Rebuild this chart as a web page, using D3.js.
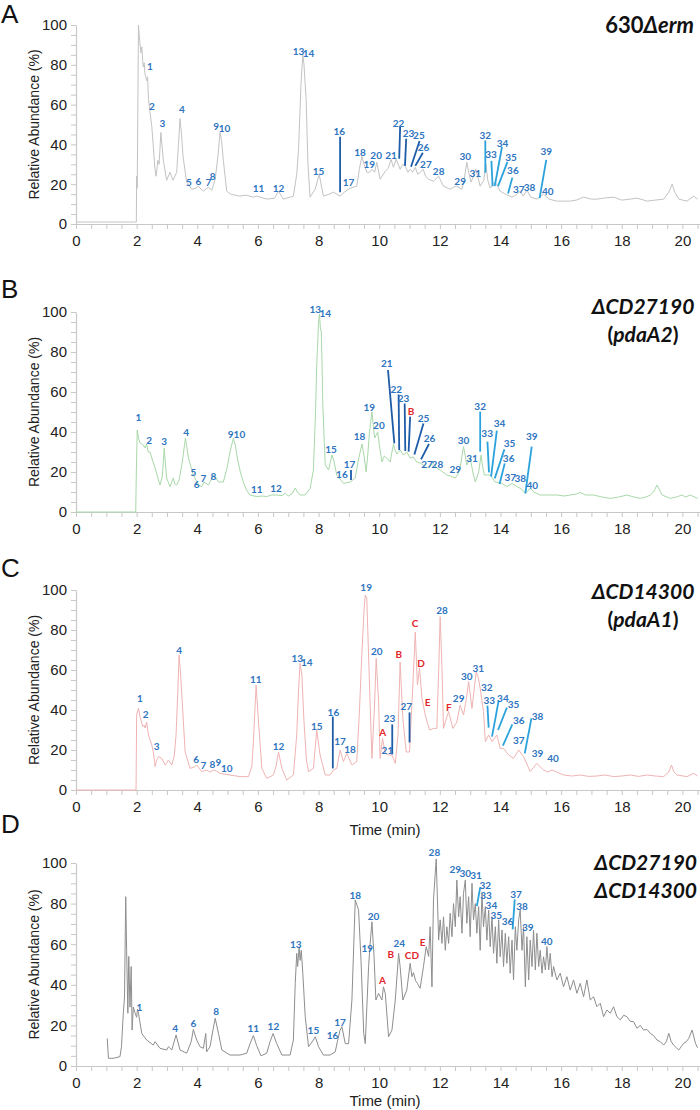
<!DOCTYPE html>
<html><head><meta charset="utf-8">
<script src="https://cdn.jsdelivr.net/npm/d3@7"></script>
<style>body{margin:0;background:#fff;} svg{display:block;}</style>
</head><body>
<svg id="c" width="700" height="1110"></svg>
<script>
// ---------- DATA ----------
const xTickValues = d3.range(0, 20.51, 0.5);
const yTickValues = d3.range(0, 101, 5);
const panelLetters = ["A", "B", "C", "D"];

const traceA = [[0,1],[1.99,1],[2.0,24],[2.02,18],[2.06,100],[2.1,92],[2.14,86],[2.17,89],[2.2,82],[2.22,79],[2.25,81],[2.27,76],[2.33,72],[2.36,74],[2.39,63],[2.45,55],[2.5,49],[2.55,39],[2.6,28],[2.64,24],[2.7,32],[2.74,30],[2.8,46],[2.88,32],[2.99,22],[3.1,26],[3.2,22],[3.32,26],[3.38,40],[3.43,53],[3.48,45],[3.53,34],[3.65,21],[3.82,17.5],[3.95,18],[4.03,19],[4.2,16.5],[4.36,18.5],[4.48,17],[4.59,22.5],[4.68,34],[4.75,46],[4.8,42],[4.86,32],[4.97,16.5],[5.1,15],[5.4,14],[5.6,14.5],[5.85,13.5],[5.96,14],[6.3,12.5],[6.55,13],[6.68,16.5],[6.84,12.5],[7.17,14],[7.28,25],[7.34,37.5],[7.42,70],[7.48,85],[7.52,80],[7.59,62.5],[7.65,30],[7.72,13.5],[7.89,17.5],[8.02,25],[8.16,14],[8.35,15],[8.49,16],[8.71,14],[8.85,16],[9.04,18],[9.26,19],[9.35,28],[9.43,34],[9.5,30],[9.59,26],[9.68,26],[9.76,27.5],[9.85,26],[9.92,31],[10.03,22.5],[10.2,26.5],[10.3,28],[10.39,32.5],[10.47,28.5],[10.56,32.5],[10.69,27.5],[10.78,30],[10.86,29],[10.95,26],[11.02,27.5],[11.1,26],[11.19,28.5],[11.27,25],[11.35,26],[11.45,27.5],[11.53,24],[11.63,22.5],[11.79,21.5],[11.96,24],[12.12,19],[12.34,17.5],[12.45,18.5],[12.56,19],[12.73,17.5],[12.8,22],[12.89,31],[12.95,26],[13.03,21],[13.19,27.5],[13.33,19],[13.45,22],[13.52,30],[13.58,22],[13.66,18],[13.75,20],[13.83,21],[13.99,16.5],[14.16,15],[14.38,13.5],[14.5,14.5],[14.65,16.5],[14.75,14],[14.87,17],[15.0,13.5],[15.2,12.5],[15.42,15],[15.6,12.5],[15.86,11.5],[16.3,11.5],[16.5,12],[16.74,13.5],[17.0,12.5],[17.18,12.5],[17.4,13],[17.73,13.5],[18.0,12],[18.28,12.5],[18.5,13],[18.84,11.5],[19.1,12],[19.38,12.5],[19.55,16],[19.66,20],[19.75,16],[19.88,12.5],[20.15,11.5],[20.37,14],[20.5,12.5]];

const traceB = [[0,0],[1.97,0],[1.99,20],[2.02,41],[2.06,37],[2.1,35],[2.16,34],[2.22,33.5],[2.28,32],[2.33,34],[2.38,30],[2.44,30],[2.52,26],[2.61,22],[2.7,17],[2.77,13.5],[2.85,18],[2.91,32],[2.95,24],[2.99,17],[3.1,12.7],[3.21,17],[3.26,14],[3.32,13.5],[3.4,16],[3.49,23.5],[3.61,37],[3.65,33],[3.71,27],[3.8,22],[3.87,18.5],[4.04,13.5],[4.15,12.7],[4.22,15],[4.37,13.5],[4.45,16],[4.53,18.5],[4.62,17],[4.7,15],[4.86,15],[4.98,22],[5.08,30],[5.19,37],[5.26,33],[5.32,27],[5.42,20],[5.52,15],[5.62,11],[5.74,8.5],[5.96,7.7],[6.15,8],[6.29,7.7],[6.45,8.5],[6.62,8.5],[6.8,8.2],[6.9,9.5],[7.0,8],[7.12,9],[7.23,12],[7.3,10],[7.39,8.5],[7.55,8.5],[7.72,11.7],[7.83,21],[7.9,50],[7.94,73.5],[8.0,95],[8.03,99],[8.06,92],[8.09,90],[8.12,70],[8.14,53.5],[8.22,23.5],[8.33,21],[8.44,28.5],[8.5,26],[8.6,18.5],[8.82,14.3],[9.04,15],[9.21,17],[9.3,25],[9.43,34],[9.5,28],[9.57,20],[9.63,30],[9.68,40],[9.76,50],[9.8,44],[9.85,37],[9.95,40],[10.0,34],[10.09,25],[10.17,28],[10.25,27],[10.36,25],[10.47,34],[10.52,31],[10.58,29],[10.69,31],[10.8,28.5],[10.91,30],[11.02,27],[11.12,27.5],[11.24,25],[11.35,24.5],[11.46,23.5],[11.55,22],[11.63,22.7],[11.79,24.3],[11.9,22],[12.01,21],[12.1,20],[12.23,18.5],[12.35,18],[12.51,17],[12.6,19],[12.67,22],[12.78,32.7],[12.84,28],[12.89,23.5],[13.0,27],[13.1,19],[13.17,15],[13.28,20],[13.36,28.5],[13.42,22],[13.47,18.5],[13.66,18.5],[13.83,15],[14.05,14.3],[14.21,12.7],[14.38,14.3],[14.54,12.7],[14.7,11.5],[14.82,9.3],[14.98,11.8],[15.1,10],[15.31,8.5],[15.6,8.5],[15.86,8.5],[16.1,8],[16.3,8.5],[16.5,9],[16.63,9.8],[16.8,8.5],[17.07,8.5],[17.35,7.5],[17.62,6.8],[17.9,7.5],[18.17,8.5],[18.4,7.5],[18.61,6.8],[18.8,7.5],[18.94,8.5],[19.05,10],[19.16,13.5],[19.25,11],[19.33,8.5],[19.6,6.8],[19.8,7.5],[19.99,8.5],[20.1,7.5],[20.26,8.5],[20.5,6.8]];

const traceC = [[0,0],[1.98,0],[2.0,37.5],[2.06,41],[2.11,36.7],[2.2,31.7],[2.24,32.5],[2.28,31],[2.33,34],[2.39,27.5],[2.5,22.5],[2.55,19],[2.61,11.7],[2.66,15],[2.72,16.7],[2.83,15.8],[2.94,12.5],[3.05,15],[3.16,12.5],[3.24,17],[3.3,27.5],[3.36,50],[3.4,67.5],[3.44,60],[3.49,47.5],[3.6,19],[3.76,10.8],[3.9,11.5],[3.98,12.5],[4.15,9.2],[4.31,10],[4.42,9],[4.53,10],[4.63,9.5],[4.75,8.3],[5.08,7.5],[5.41,6.7],[5.69,6.7],[5.8,12],[5.85,24],[5.94,52.5],[6.02,34],[6.13,10.8],[6.29,5.8],[6.51,7.5],[6.6,12],[6.68,19],[6.79,10.8],[6.95,5],[7.17,7.5],[7.28,27.5],[7.34,50],[7.39,63.3],[7.45,57.5],[7.52,34],[7.6,15],[7.67,9.2],[7.83,10.8],[7.94,30],[8.05,17.5],[8.22,7.5],[8.38,7.5],[8.49,10],[8.6,10.8],[8.71,20],[8.82,14.2],[8.93,18.3],[9.1,12.5],[9.26,14.2],[9.35,40],[9.43,69],[9.5,90],[9.54,97.5],[9.59,96],[9.68,52.5],[9.76,15.8],[9.85,44],[9.9,65.8],[9.98,44],[10.03,15.8],[10.11,25.8],[10.2,18.3],[10.31,17.5],[10.42,17.5],[10.53,13.3],[10.62,27.5],[10.69,64],[10.78,35.8],[10.89,19],[11.0,19],[11.11,52.5],[11.19,79],[11.26,52.5],[11.33,60.8],[11.41,45.8],[11.52,37.5],[11.6,33],[11.66,30],[11.79,30.8],[11.9,30.8],[11.97,64],[12.01,86.7],[12.07,60.8],[12.12,30.8],[12.22,36],[12.29,39.2],[12.43,30.8],[12.56,34],[12.67,42.5],[12.78,37.5],[12.88,46],[12.95,54.2],[13.06,40.8],[13.2,59.2],[13.27,56],[13.33,50.8],[13.44,39.2],[13.5,24.2],[13.61,27.5],[13.72,24.2],[13.88,27.5],[13.99,20.8],[14.1,20.8],[14.27,17.5],[14.43,15.8],[14.6,20],[14.76,16.7],[14.98,9.2],[15.2,13.3],[15.42,10],[15.55,9],[15.7,10],[16.08,7.5],[16.35,7],[16.63,7.5],[16.9,6.8],[17.18,7],[17.45,7.5],[17.73,6.7],[18.0,7],[18.28,7.5],[18.55,6.8],[18.84,7.5],[19.1,7],[19.38,6.7],[19.55,9],[19.64,12.5],[19.72,9],[19.82,7.5],[20.15,6.7],[20.37,8.3],[20.5,7]];

const traceD = [[1.03,13.6],[1.07,3.8],[1.23,3.8],[1.45,4.6],[1.5,9.5],[1.56,26],[1.6,34],[1.64,83.4],[1.67,57],[1.71,26],[1.74,54],[1.78,29],[1.82,49],[1.85,17.7],[1.89,29],[1.95,26],[2.0,24],[2.03,28],[2.06,26],[2.17,16],[2.33,12.8],[2.55,10.3],[2.61,12],[2.77,8.7],[2.99,7.9],[3.05,9.5],[3.16,7.9],[3.3,15.3],[3.43,7.9],[3.65,6.3],[3.8,12],[3.87,18],[3.98,12.8],[4.09,9.5],[4.2,8.7],[4.28,16],[4.31,7],[4.42,9.5],[4.52,18],[4.59,23.5],[4.7,16],[4.81,7.9],[5.08,5.4],[5.41,5.4],[5.63,6.3],[5.74,11],[5.85,15],[5.96,10],[6.1,5],[6.29,6.3],[6.4,12],[6.5,16],[6.62,11],[6.79,5.4],[7.06,5.4],[7.17,12.8],[7.23,40.7],[7.28,55.5],[7.31,49],[7.36,58.8],[7.39,52],[7.43,57],[7.48,45.7],[7.56,24.3],[7.67,9.5],[7.83,12.8],[7.89,14.4],[8.0,9.5],[8.16,5.4],[8.38,5.4],[8.55,7],[8.62,12],[8.71,17.7],[8.77,19.4],[8.88,11],[8.99,11],[9.1,32.5],[9.21,81.8],[9.32,76.8],[9.4,52],[9.49,16],[9.54,11],[9.65,49],[9.7,60],[9.76,71],[9.83,54],[9.89,32.5],[9.98,35.8],[10.09,32.5],[10.14,39],[10.2,35.8],[10.31,14.4],[10.42,17.7],[10.53,32.5],[10.64,55.5],[10.69,49],[10.78,32.5],[10.91,37.4],[11.02,50.6],[11.08,44],[11.13,46],[11.2,42],[11.26,40.7],[11.35,38.3],[11.46,49],[11.55,58.8],[11.63,54],[11.68,68.6],[11.74,39],[11.79,81.8],[11.88,102],[11.92,81.8],[11.96,62],[12.01,72],[12.07,60.4],[12.12,73.5],[12.18,57],[12.23,68.6],[12.29,60.4],[12.34,75.2],[12.4,63.7],[12.45,80],[12.51,68.6],[12.56,91.6],[12.62,73.5],[12.67,83.4],[12.73,65.4],[12.78,85],[12.84,91.6],[12.89,70.3],[12.95,83.4],[13.0,63.7],[13.06,90],[13.11,72],[13.17,80],[13.22,65.4],[13.28,78.5],[13.33,57],[13.39,85],[13.44,68.6],[13.5,78.5],[13.55,62],[13.61,76.8],[13.66,58.8],[13.72,73.5],[13.77,55.5],[13.83,68.6],[13.88,50.6],[13.94,72],[13.99,53.8],[14.05,67],[14.1,49],[14.16,65.4],[14.21,50.6],[14.27,63.7],[14.32,45.7],[14.38,62],[14.43,42.4],[14.49,68.6],[14.54,57],[14.6,72],[14.65,76.8],[14.71,57],[14.76,68.6],[14.82,39],[14.87,63.7],[14.93,42.4],[14.98,62],[15.04,49],[15.09,67],[15.15,47.3],[15.2,65.4],[15.26,49],[15.31,57],[15.37,45.7],[15.42,53.8],[15.48,47.3],[15.53,58.8],[15.59,47.3],[15.64,55.5],[15.7,44],[15.75,49],[15.86,42.4],[15.97,45.7],[16.08,39],[16.19,44],[16.3,37.4],[16.41,42.4],[16.52,35.8],[16.63,40.7],[16.74,34.1],[16.85,42.4],[16.96,32.5],[17.07,34.1],[17.18,29.2],[17.29,30.9],[17.4,24.3],[17.51,27.6],[17.62,26],[17.73,29.2],[17.84,24.3],[17.95,22.7],[18.06,25],[18.17,24.3],[18.28,22],[18.39,21.8],[18.5,18.6],[18.61,20],[18.72,17.7],[18.83,18],[18.94,16.1],[19.05,15],[19.16,12.8],[19.27,12],[19.38,10.3],[19.47,12],[19.55,16.1],[19.63,12],[19.71,10.3],[19.8,9],[19.88,7.9],[19.96,9.5],[20.04,11.2],[20.13,12],[20.21,13.6],[20.32,17.7],[20.43,11.2],[20.5,9]];

const labelsA = [["1",2.44,79.5],["2",2.5,59.5],["3",2.85,51],["4",3.49,58],["5",3.72,21],["6",4.04,21.7],["7",4.37,21],["8",4.51,24],["9",4.62,49],["10",4.9,48],["11",6.02,18],["12",6.68,18.3],["13",7.34,87],["14",7.67,86],["15",8.0,26.7],["16",8.68,46.5],["17",8.99,21],["18",9.37,36],["19",9.67,30],["20",9.9,34.5],["21",10.39,34.5],["22",10.64,51],["23",10.97,45.5],["25",11.31,44.5],["26",11.46,38.5],["27",11.54,30.3],["28",11.96,26.7],["29",12.67,21.7],["30",12.84,34.2],["31",13.17,25.8],["32",13.5,44.5],["33",13.69,35],["34",14.07,40.8],["35",14.35,33.8],["36",14.41,27],["37",14.6,17.5],["38",14.96,18.5],["39",15.51,36.7],["40",15.56,16.7]];
const labelsB = [["1",2.06,47.7],["2",2.41,36],["3",2.91,35.7],["4",3.63,39.8],["5",3.87,19.8],["6",3.98,13.8],["7",4.2,16.8],["8",4.53,18.2],["9",5.1,38.8],["10",5.39,38.8],["11",5.96,11.5],["12",6.6,11.8],["13",7.89,101.3],["14",8.22,99.3],["15",8.41,31.5],["16",8.77,18.8],["17",9.02,23.8],["18",9.35,38],["19",9.67,52.7],["20",9.99,43.5],["21",10.25,74.7],["22",10.56,61.5],["23",10.8,56.8],["B",11.05,50.5],["25",11.46,46.8],["26",11.66,37.2],["27",11.58,23.8],["28",11.92,23.8],["29",12.51,21.5],["30",12.78,36],["31",13.06,26.8],["32",13.33,53.2],["33",13.56,39.3],["34",13.97,44.3],["35",14.3,34.3],["36",14.27,26.8],["37",14.32,17.5],["38",14.65,16.8],["39",15.03,38],["40",15.05,13.5]];
const labelsC = [["1",2.11,45.8],["2",2.3,38],["3",2.66,22.2],["4",3.4,70],["6",3.96,15.5],["7",4.2,12.5],["8",4.5,12.8],["9",4.7,14.2],["10",4.97,10.8],["11",5.93,55.5],["12",6.68,21.8],["13",7.3,65.8],["14",7.61,64.2],["15",7.94,32.2],["16",8.49,39.2],["17",8.71,24.5],["18",9.04,20.5],["19",9.57,101.7],["20",9.92,69.5],["A",10.12,29.2],["21",10.27,20],["23",10.34,35.8],["B",10.65,67.8],["27",10.89,42.2],["C",11.18,83.3],["D",11.38,63.7],["E",11.6,43.8],["28",12.07,90],["F",12.3,41.7],["29",12.62,45.8],["30",12.89,57],["31",13.27,60.8],["32",13.55,51.7],["33",13.63,45],["34",14.08,46.2],["35",14.43,42.8],["36",14.6,35],["37",14.6,25],["38",15.22,37.2],["39",15.22,18.3],["40",15.73,16.2]];
const labelsD = [["1",2.09,28.9],["4",3.27,18.6],["6",3.87,21],["8",4.62,27.2],["11",5.85,18.6],["12",6.51,19.7],["13",7.25,60.1],["15",7.83,17.7],["16",8.46,15.3],["17",8.71,21.8],["18",9.21,84.2],["19",9.61,58.3],["20",9.81,74],["A",10.11,42.4],["B",10.38,55],["24",10.66,60.5],["CD",11.08,54.7],["E",11.43,61.2],["28",11.82,105.3],["29",12.51,96.9],["30",12.84,94.9],["31",13.19,94.1],["32",13.5,89],["33",13.52,84.2],["34",13.7,79.3],["35",13.86,74.4],["36",14.23,71.5],["37",14.51,84.7],["38",14.71,78.8],["39",14.9,68.3],["40",15.53,61.6]];

// leader lines: [t1, v1, t2, v2, kind]  kind: d = dark, l = light
const leadersA = [[8.71,43.8,8.71,16,"d"],[10.69,48.7,10.66,32.8,"d"],[10.89,42.8,10.85,29.2,"d"],[11.33,41.7,11.05,28.8,"d"],[11.44,35.8,11.19,29.2,"d"],[13.5,42,13.5,25.8,"l"],[13.7,31.7,13.74,19,"l"],[14.05,38.8,13.81,19,"l"],[14.23,31.2,13.92,19,"l"],[14.39,23.3,14.25,15.3,"l"],[15.51,32.2,15.29,13,"l"]];
const leadersB = [[9.07,21,9.07,16,"d"],[10.29,71,10.5,34.3,"d"],[10.64,58.8,10.66,31,"d"],[10.84,54.3,10.86,30.5,"d"],[11.02,47.7,10.97,30.2,"d"],[11.46,44.3,11.16,28.8,"d"],[11.64,34,11.38,26.3,"d"],[13.33,50.2,13.33,30.2,"l"],[13.57,35.2,13.62,19.8,"l"],[13.88,40.7,13.69,17.7,"l"],[14.13,31.3,13.81,16.8,"l"],[14.14,24.3,13.97,14,"l"],[15.03,32.7,14.82,9.3,"l"]];
const leadersC = [[8.47,36.7,8.47,10.8,"d"],[10.43,32.8,10.43,17.8,"d"],[11.0,38.8,11.0,23.8,"d"],[13.57,42.2,13.61,31.2,"l"],[13.94,44.7,13.72,26.7,"l"],[14.21,41.2,13.92,30,"l"],[14.39,32.8,14.08,22.2,"l"],[15.02,35.8,14.8,18.3,"l"]];
const leadersD = [[13.33,88,13.22,78.8,"l"],[14.47,82.1,14.4,67.3,"l"]];

// ---------- DRAW ----------
const svg = d3.select('#c');
const x = d3.scaleLinear().domain([0, 20.58]).range([76, 700]);
const AX = '#c8c8c8';
const BLUE = '#2e74c0', RED = '#e3262b', DARK = '#1e5ca8', LIGHT = '#2ba2dc';

const panels = [
  {trace: traceA, labels: labelsA, leaders: leadersA, y0: 224, y100: 25, stroke: '#c3c3c3', letterY: 23},
  {trace: traceB, labels: labelsB, leaders: leadersB, y0: 512, y100: 312, stroke: '#a9d8a9', letterY: 298},
  {trace: traceC, labels: labelsC, leaders: leadersC, y0: 790, y100: 590, stroke: '#f0b3b3', letterY: 577},
  {trace: traceD, labels: labelsD, leaders: leadersD, y0: 1066, y100: 863, stroke: '#8e8e8e', letterY: 833}
];

panels.forEach((p, i) => {
  const y = d3.scaleLinear().domain([0, 100]).range([p.y0, p.y100]);
  const g = svg.append('g');

  const xa = g.append('g').attr('transform', `translate(0,${p.y0})`)
    .call(d3.axisBottom(x).tickValues(xTickValues).tickSize(5).tickSizeOuter(0).tickPadding(6)
      .tickFormat(d => (Math.abs(d % 2) < 1e-9) ? d : ''));
  const ya = g.append('g').attr('transform', `translate(76,0)`)
    .call(d3.axisLeft(y).tickValues(yTickValues).tickSize(5).tickSizeOuter(0).tickPadding(4)
      .tickFormat(d => d % 20 === 0 ? d : ''));
  [xa, ya].forEach(a => {
    a.select('.domain').attr('stroke', AX).attr('stroke-width', 1.2);
    a.selectAll('.tick line').attr('stroke', AX);
    a.selectAll('.tick text').attr('fill', '#222').style('font-family', '"Liberation Sans", Arial, sans-serif').style('font-size', '15px');
  });

  g.append('text')
    .attr('transform', `translate(34,${(p.y0 + p.y100) / 2}) rotate(-90)`)
    .attr('text-anchor', 'middle').attr('dominant-baseline', 'central')
    .style('font-family', '"Liberation Sans", Arial, sans-serif').style('font-size', '14px').attr('fill', '#222')
    .text('Relative Abundance (%)');

  g.append('text').attr('x', 1).attr('y', p.letterY)
    .style('font-family', '"Liberation Sans", Arial, sans-serif').style('font-size', '26px').attr('fill', '#111')
    .text(panelLetters[i]);

  const line = d3.line().x(d => x(d[0])).y(d => y(d[1]));
  g.append('path').datum(p.trace).attr('d', line)
    .attr('fill', 'none').attr('stroke', p.stroke).attr('stroke-width', 1).attr('stroke-linejoin', 'round');

  g.selectAll('line.ld').data(p.leaders).join('line').attr('class', 'ld')
    .attr('x1', d => x(d[0])).attr('y1', d => y(d[1]))
    .attr('x2', d => x(d[2])).attr('y2', d => y(d[3]))
    .attr('stroke', d => d[4] === 'd' ? DARK : LIGHT).attr('stroke-width', 1.8);

  g.selectAll('text.pk').data(p.labels).join('text').attr('class', 'pk')
    .attr('x', d => x(d[1])).attr('y', d => y(d[2]))
    .attr('text-anchor', 'middle').attr('dominant-baseline', 'central')
    .style('font-family', 'Lato, "Open Sans", sans-serif').style('font-weight', '700').style('font-size', '10px')
    .attr('fill', d => /^[A-Z]+$/.test(d[0]) ? RED : BLUE)
    .text(d => d[0]);
});

const tf = 'Lato, "Open Sans", sans-serif';
const tA = svg.append('text').attr('x', 694).attr('y', 33).attr('text-anchor', 'end')
  .style('font-family', tf).style('font-weight', '700').style('font-size', '22px').attr('fill', '#111');
tA.append('tspan').text('630');
tA.append('tspan').style('font-style', 'italic').text('Δerm');

function twoLine(cx, y1, y2, l1, l2a, l2b, l2c) {
  svg.append('text').attr('x', cx).attr('y', y1).attr('text-anchor', 'middle')
    .style('font-family', tf).style('font-weight', '700').style('font-style', 'italic').style('font-size', '21px').attr('fill', '#111')
    .text(l1);
  const t = svg.append('text').attr('x', cx).attr('y', y2).attr('text-anchor', 'middle')
    .style('font-family', tf).style('font-weight', '700').style('font-size', '21px').attr('fill', '#111');
  t.append('tspan').text(l2a);
  t.append('tspan').style('font-style', 'italic').text(l2b);
  t.append('tspan').text(l2c);
}
twoLine(643, 314, 342, 'ΔCD27190', '(', 'pdaA2', ')');
twoLine(643, 599, 627, 'ΔCD14300', '(', 'pdaA1', ')');

svg.append('text').attr('x', 697).attr('y', 870).attr('text-anchor', 'end')
  .style('font-family', tf).style('font-weight', '700').style('font-style', 'italic').style('font-size', '21px').attr('fill', '#111')
  .text('ΔCD27190');
svg.append('text').attr('x', 697).attr('y', 898).attr('text-anchor', 'end')
  .style('font-family', tf).style('font-weight', '700').style('font-style', 'italic').style('font-size', '21px').attr('fill', '#111')
  .text('ΔCD14300');

[835, 1106].forEach(yy => {
  svg.append('text').attr('x', 385).attr('y', yy).attr('text-anchor', 'middle')
    .style('font-family', '"Liberation Sans", Arial, sans-serif').style('font-size', '15px').attr('fill', '#222')
    .text('Time (min)');
});
</script>
</body></html>
